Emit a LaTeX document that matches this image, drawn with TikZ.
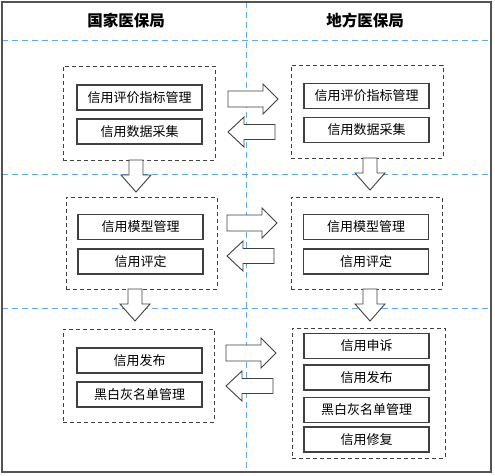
\documentclass[tikz,border=0pt]{standalone}
\usepackage{fontspec}
\newfontfamily\cjk{Noto Sans CJK SC}
\usetikzlibrary{positioning}
\definecolor{lineblue}{RGB}{90,170,245}
\definecolor{edge}{RGB}{64,64,64}
\tikzset{
  frame/.style={draw=edge!90, line width=1.3pt},
  lane/.style={draw=lineblue, line width=1pt, dash pattern=on 6pt off 4pt},
  group/.style={draw=edge, line width=0.8pt, dash pattern=on 4pt off 3pt, minimum width=#1},
  item/.style={draw=edge, line width=1.2pt, fill=white, minimum width=125pt, minimum height=25pt, inner sep=0pt, font=\cjk\fontsize{13}{15}\selectfont},
  head/.style={font=\cjk\bfseries\fontsize{15.5}{18}\selectfont},
  barrow/.style={draw=edge, line width=0.9pt, fill=white, line join=miter},
  rarr/.pic={\draw[barrow] (0,-8) -- (35,-8) -- (35,-15) -- (50,0) -- (35,15) -- (35,8) -- (0,8) -- cycle;},
  larr/.pic={\draw[barrow] (0,0) -- (16,-15) -- (16,-7.5) -- (47,-7.5) -- (47,7.5) -- (16,7.5) -- (16,15) -- cycle;},
  darr/.pic={\draw[barrow] (-7,0) -- (7,0) -- (7,15) -- (15,15) -- (0,32) -- (-15,15) -- (-7,15) -- cycle;}
}
\begin{document}
\begin{tikzpicture}[x=1pt,y=-1pt]
\useasboundingbox (0,0) rectangle (495,475);
% lanes
\draw[lane] (2,40) -- (491,40);
\draw[lane] (2,174) -- (491,174);
\draw[lane] (2,308) -- (491,308);
\draw[lane] (246.5,2) -- (246.5,472);
\draw[frame] (2,2) rectangle (491,472);
% headers
\node[head] (hl) at (126,21) {国家医保局};
\node[head] (hr) at (365,21) {地方医保局};
% row 1
\node[group, minimum width=152pt, minimum height=94pt] (gl1) at (139,113) {};
\node[item] (l1a) at (139.5,97.5) {信用评价指标管理};
\node[item] (l1b) at (139.5,131.5) {信用数据采集};
\node[group, minimum width=152pt, minimum height=93pt] (gr1) at (367,111.5) {};
\node[item] (r1a) at (366.5,96) {信用评价指标管理};
\node[item] (r1b) at (366.5,130) {信用数据采集};
\pic at (228,99) {rarr};
\pic at (228,132) {larr};
\pic at (136,160) {darr};
\pic at (370,158) {darr};
% row 2
\node[group, minimum width=151pt, minimum height=92pt] (gl2) at (141.5,243) {};
\node[item] (l2a) at (140.5,227) {信用模型管理};
\node[item] (l2b) at (140.5,261.5) {信用评定};
\node[group, minimum width=151pt, minimum height=92pt] (gr2) at (366.5,243) {};
\node[item] (r2a) at (366,227) {信用模型管理};
\node[item] (r2b) at (366,261.5) {信用评定};
\pic at (227,223) {rarr};
\pic at (227,256) {larr};
\pic at (135,289) {darr};
\pic at (370,289) {darr};
% row 3
\node[group, minimum width=151pt, minimum height=93pt] (gl3) at (138.5,375.5) {};
\node[item] (l3a) at (139.5,360.5) {信用发布};
\node[item] (l3b) at (139.5,394.5) {黑白灰名单管理};
\node[group, minimum width=153pt, minimum height=130pt] (gr3) at (368.5,393) {};
\node[item] (r3a) at (366.5,346) {信用申诉};
\node[item] (r3b) at (366.5,377.5) {信用发布};
\node[item] (r3c) at (366.5,410) {黑白灰名单管理};
\node[item] (r3d) at (366.5,439.5) {信用修复};
\pic at (226,353) {rarr};
\pic at (226,386) {larr};
\end{tikzpicture}
\end{document}
